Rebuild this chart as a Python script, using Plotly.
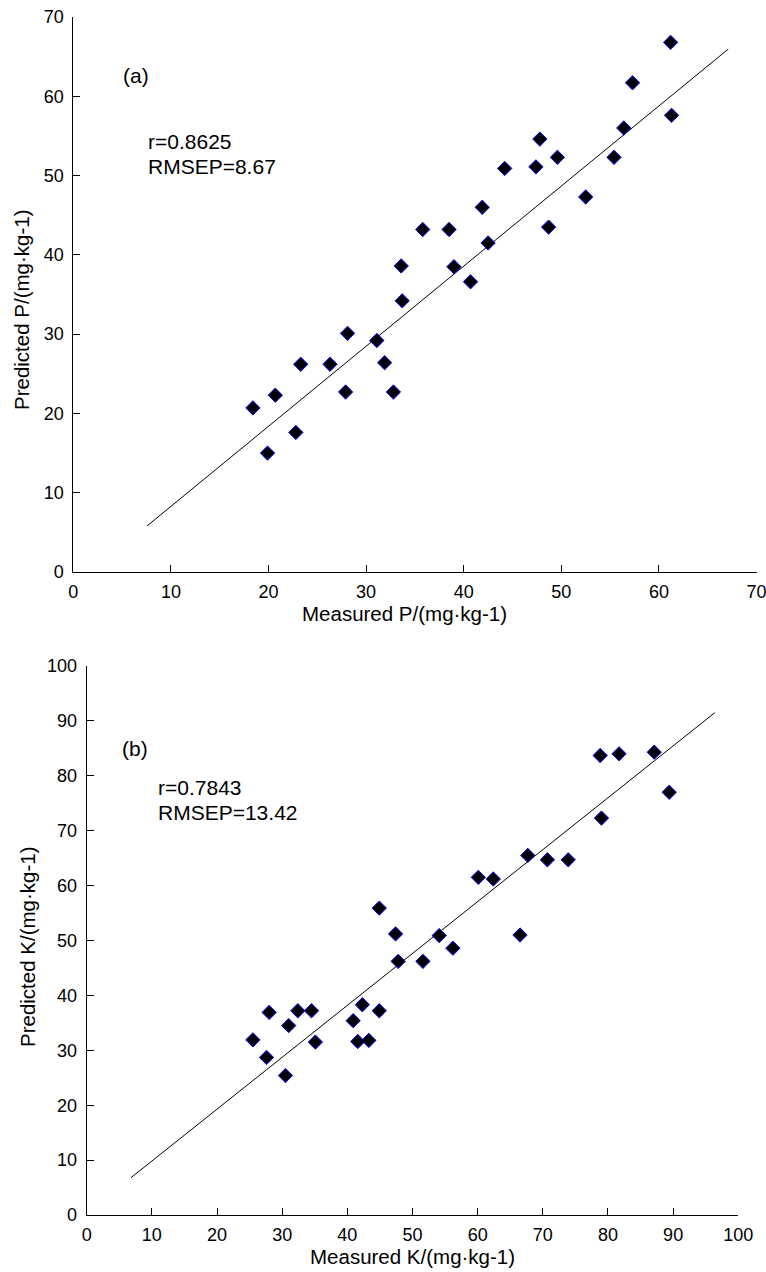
import plotly.graph_objects as go

# ---------------- data: panel (a) phosphorus ----------------
p_measured = [61.2, 57.3, 61.3, 56.4, 47.8, 49.6, 44.2, 47.4, 55.4, 52.5,
              41.9, 35.8, 38.5, 48.7, 42.5, 39.0, 40.7, 33.6, 33.7, 28.1,
              31.1, 23.3, 26.3, 31.9, 20.7, 27.9, 32.8, 18.4, 22.8, 19.9]
p_predicted = [66.8, 61.7, 57.6, 56.0, 54.6, 52.3, 50.9, 51.1, 52.3, 47.3,
               46.0, 43.2, 43.2, 43.5, 41.5, 38.5, 36.6, 38.6, 34.2, 30.1,
               29.2, 26.2, 26.2, 26.4, 22.3, 22.7, 22.7, 20.7, 17.6, 15.0]
p_fit_x = [7.55, 67.1]
p_fit_y = [5.8, 65.95]

# ---------------- data: panel (b) potassium ----------------
k_measured = [44.9, 47.4, 54.1, 56.2, 47.8, 51.6, 42.3, 44.9, 40.9, 41.6,
              43.3, 28.0, 32.4, 34.5, 31.0, 25.5, 35.1, 27.6, 30.5, 66.5,
              78.8, 81.7, 87.1, 89.4, 79.0, 67.7, 70.7, 73.9, 60.1, 62.4]
k_predicted = [55.9, 51.2, 50.9, 48.6, 46.2, 46.2, 38.3, 37.2, 35.4, 31.6,
               31.8, 36.9, 37.2, 37.2, 34.5, 31.9, 31.5, 28.7, 25.4, 51.0,
               83.7, 84.0, 84.3, 77.0, 72.3, 65.5, 64.7, 64.7, 61.5, 61.2]
k_fit_x = [6.8, 96.4]
k_fit_y = [6.8, 91.5]

p_ticks = [0, 10, 20, 30, 40, 50, 60, 70]
k_ticks = [0, 10, 20, 30, 40, 50, 60, 70, 80, 90, 100]

texts_a = ["(a)", "r=0.8625", "RMSEP=8.67"]
texts_b = ["(b)", "r=0.7843", "RMSEP=13.42"]
x_titles = ["Measured P/(mg·kg-1)", "Measured K/(mg·kg-1)"]
y_titles = ["Predicted P/(mg·kg-1)", "Predicted K/(mg·kg-1)"]

# ---------------- layout geometry (page pixels) ----------------
W, H = 766, 1272
TOP = dict(xl=73.3, xr=756.5, yb=572.0, yt=17.0)
BOT = dict(xl=86.7, xr=738.3, yb=1215.0, yt=666.0)

FONT = "Liberation Sans, Arial, Helvetica, sans-serif"


def px(x):
    return x / W


def py(y):
    return 1 - y / H


fig = go.Figure()

marker = dict(symbol="diamond", size=11, color="black",
              line=dict(color="#0000ff", width=1))

fig.add_trace(go.Scatter(x=p_fit_x, y=p_fit_y, mode="lines",
                         line=dict(color="black", width=1),
                         xaxis="x", yaxis="y", showlegend=False))
fig.add_trace(go.Scatter(x=p_measured, y=p_predicted, mode="markers",
                         marker=marker, xaxis="x", yaxis="y", showlegend=False))
fig.add_trace(go.Scatter(x=k_fit_x, y=k_fit_y, mode="lines",
                         line=dict(color="black", width=1),
                         xaxis="x2", yaxis="y2", showlegend=False))
fig.add_trace(go.Scatter(x=k_measured, y=k_predicted, mode="markers",
                         marker=marker, xaxis="x2", yaxis="y2", showlegend=False))

axis_common = dict(showline=True, linecolor="black", linewidth=1,
                   mirror=False, showgrid=False, zeroline=False,
                   automargin=False, ticklabeloverflow="allow",
                   ticks="inside", ticklen=7, tickcolor="black", tickwidth=1,
                   tickfont=dict(family=FONT, size=18, color="black"),
                   fixedrange=True)

fig.update_layout(
    template="none",
    width=W, height=H, autosize=False,
    margin=dict(l=0, r=0, t=0, b=0, pad=0, autoexpand=False),
    paper_bgcolor="white", plot_bgcolor="white",
    showlegend=False,
    xaxis=dict(domain=[px(TOP["xl"]), px(TOP["xr"])], range=[0, 70],
               tickvals=p_ticks, anchor="y", ticklabelstandoff=3, **axis_common),
    yaxis=dict(domain=[py(TOP["yb"]), py(TOP["yt"])], range=[0, 70],
               tickvals=p_ticks, anchor="x", ticklabelstandoff=5, **axis_common),
    xaxis2=dict(domain=[px(BOT["xl"]), px(BOT["xr"])], range=[0, 100],
                tickvals=k_ticks, anchor="y2", ticklabelstandoff=3, **axis_common),
    yaxis2=dict(domain=[py(BOT["yb"]), py(BOT["yt"])], range=[0, 100],
                tickvals=k_ticks, anchor="x2", ticklabelstandoff=5, **axis_common),
)


def add_text(text, x, y, xanchor="left", textangle=0, size=21):
    fig.add_annotation(text=text, x=px(x), y=py(y), xref="paper", yref="paper",
                       xanchor=xanchor, yanchor="middle", showarrow=False,
                       textangle=textangle,
                       font=dict(family=FONT, size=size, color="black"))


# panel (a) texts
add_text(texts_a[0], 121, 75)
add_text(texts_a[1], 146, 141)
add_text(texts_a[2], 146, 166)
# panel (b) texts
add_text(texts_b[0], 120, 749)
add_text(texts_b[1], 156, 787)
add_text(texts_b[2], 156, 812)

# axis titles
add_text(x_titles[0], 404, 614, xanchor="center", size=20.5)
add_text(x_titles[1], 412, 1256, xanchor="center", size=20.5)
add_text(y_titles[0], 21, 310, xanchor="center", textangle=-90, size=20.5)
add_text(y_titles[1], 27, 947, xanchor="center", textangle=-90, size=20.5)

fig.write_html("out.html", config={"displayModeBar": False},
               post_script="document.body.style.margin='0';"
                           "document.documentElement.style.overflow='hidden';")
